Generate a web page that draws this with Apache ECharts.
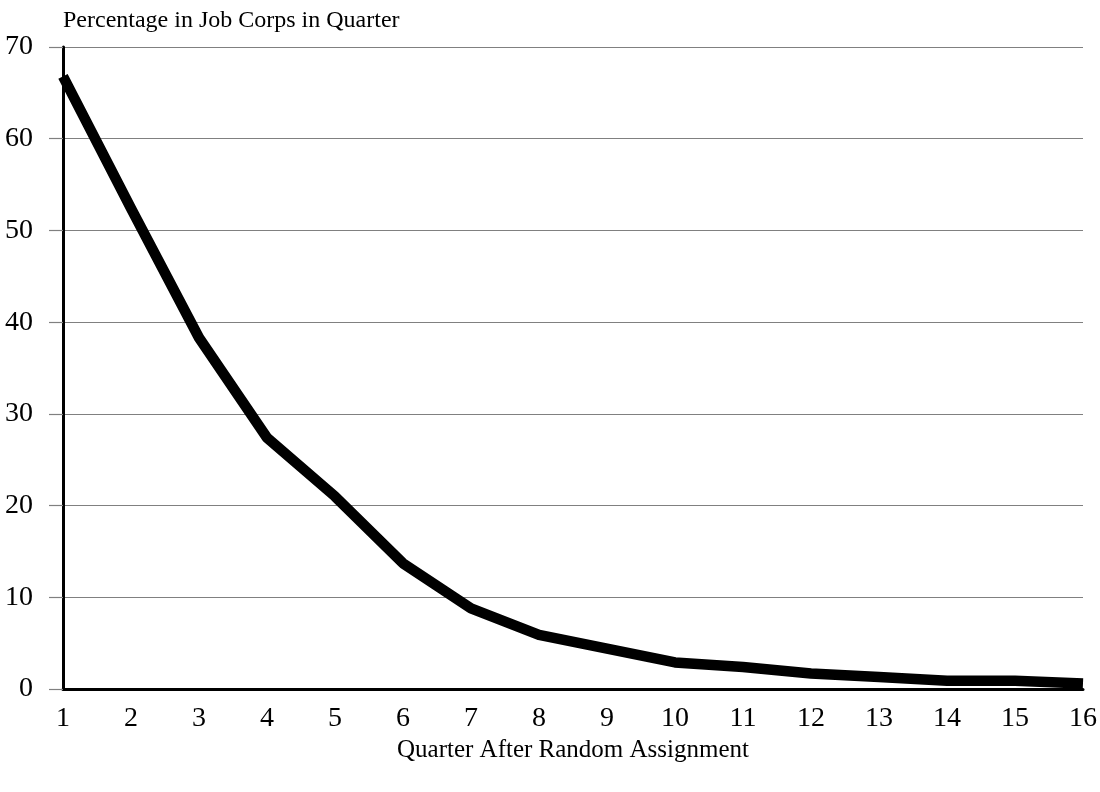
<!DOCTYPE html>
<html>
<head>
<meta charset="utf-8">
<script src="https://cdn.jsdelivr.net/npm/echarts@6/dist/echarts.min.js"></script>
<style>html,body{margin:0;padding:0;background:#fff;}#c{width:1100px;height:792px;}</style>
</head>
<body>
<div id="c"></div>
<script>
const quarters = ['1','2','3','4','5','6','7','8','9','10','11','12','13','14','15','16'];
const pctInJobCorps = [66.8, 52.4, 38.3, 27.4, 21.0, 13.7, 8.8, 5.9, 4.4, 2.9, 2.4, 1.7, 1.3, 0.9, 0.9, 0.6];
const yTicks = { min: 0, max: 70, interval: 10 };
const yTitle = 'Percentage in Job Corps in Quarter';
const xTitle = 'Quarter After Random Assignment';

const font = 'Liberation Serif, Times New Roman, serif';
const chart = echarts.init(document.getElementById('c'), null, {renderer: 'canvas'});
chart.setOption({
  backgroundColor: '#fff',
  animation: false,
  grid: { left: 63, right: 17, top: 47, bottom: 103, containLabel: false },
  xAxis: {
    type: 'category',
    data: quarters,
    boundaryGap: false,
    name: xTitle,
    nameLocation: 'middle',
    nameGap: 47,
    nameTextStyle: { fontFamily: font, fontSize: 25, color: '#000' },
    axisLine: { show: true, lineStyle: { color: '#000', width: 3 } },
    axisTick: { show: false },
    axisLabel: { fontFamily: font, fontSize: 28, color: '#000', margin: 16, interval: 0 },
    splitLine: { show: false }
  },
  yAxis: {
    type: 'value',
    min: yTicks.min, max: yTicks.max, interval: yTicks.interval,
    name: yTitle,
    nameLocation: 'end',
    nameGap: 14,
    nameTextStyle: { fontFamily: font, fontSize: 24, color: '#000', align: 'left' },
    axisLine: { show: true, lineStyle: { color: '#000', width: 3 } },
    axisTick: { show: true, length: 14, lineStyle: { color: '#808080', width: 1.2 } },
    axisLabel: { fontFamily: font, fontSize: 28, color: '#000', margin: 30 },
    splitLine: { show: true, lineStyle: { color: '#808080', width: 1.2 } }
  },
  series: [{
    type: 'line',
    data: pctInJobCorps,
    showSymbol: false,
    symbol: 'none',
    lineStyle: { color: '#000', width: 10.5, join: 'round', cap: 'butt' },
    z: 3
  }]
});
</script>
</body>
</html>
